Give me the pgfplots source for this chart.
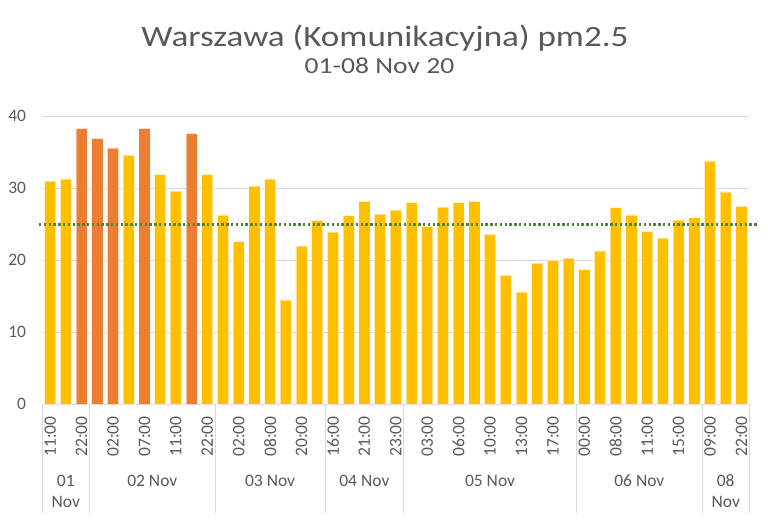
\documentclass[border=0pt]{standalone}
\usepackage{fontspec}
\setmainfont{Carlito}
\newfontfamily\titlefont{Carlito}[FakeStretch=1.19]
\newfontfamily\subfont{Carlito}[FakeStretch=1.2]
\usepackage{pgfplots}
\usepackage{pgfplotstable}
\pgfplotsset{compat=1.18}
\definecolor{txt}{HTML}{595959}
\definecolor{grd}{HTML}{D9D9D9}
\definecolor{yel}{HTML}{FFC000}
\definecolor{org}{HTML}{ED7D31}
\definecolor{grn}{HTML}{538135}
\tikzset{lbl/.style={anchor=base, text=txt, inner sep=0pt, font=\fontsize{17.5bp}{21bp}\selectfont}}

\pgfplotstableread{
x y
0 31.0
1 31.3
5 34.6
7 31.9
8 29.6
10 31.9
11 26.3
12 22.6
13 30.3
14 31.3
15 14.5
16 22.0
17 25.5
18 23.9
19 26.2
20 28.2
21 26.4
22 27.0
23 28.0
24 24.7
25 27.4
26 28.0
27 28.2
28 23.6
29 17.9
30 15.6
31 19.6
32 20.0
33 20.3
34 18.7
35 21.3
36 27.3
37 26.3
38 24.0
39 23.1
40 25.6
41 25.9
42 33.8
43 29.5
44 27.5
}\yellowdata

\pgfplotstableread{
x y
2 38.3
3 36.9
4 35.6
6 38.3
9 37.6
}\orangedata

\begin{document}
\begin{tikzpicture}
\path[use as bounding box] (0,0) rectangle (768bp,522bp);
\node[anchor=base, text=txt, inner sep=0pt, font=\titlefont\fontsize{29.5bp}{35bp}\selectfont] at (385bp,475.3bp) {Warszawa (Komunikacyjna) pm2.5};
\node[anchor=base, text=txt, inner sep=0pt, font=\subfont\fontsize{23bp}{28bp}\selectfont] at (379.5bp,448bp) {01-08 Nov 20};
\begin{axis}[
  at={(42.3bp,117.7bp)}, anchor=south west,
  scale only axis, width=707bp, height=288bp,
  xmin=-0.5, xmax=44.5, ymin=0, ymax=40,
  ytick={0,10,20,30,40},
  ymajorgrids, grid style={grd, line width=1bp},
  separate axis lines,
  axis x line*=bottom, axis y line*=left,
  x axis line style={draw=grd, line width=1bp},
  y axis line style={draw=none},
  xtick style={draw=none}, ytick style={draw=none},
  major tick length=0pt,
  ybar, bar width=11.2bp,
  clip=false,
  xtick={0,2,...,44},
  xticklabels={11:00,22:00,02:00,07:00,11:00,22:00,02:00,08:00,20:00,16:00,21:00,23:00,03:00,06:00,10:00,13:00,17:00,00:00,08:00,11:00,15:00,09:00,22:00},
  /pgf/number format/assume math mode=true,
  tick label style={font=\fontsize{17.5bp}{21bp}\selectfont, text=txt},
  xticklabel style={rotate=90, anchor=east, inner sep=0pt},
  xticklabel shift=12bp,
  yticklabel style={anchor=east, inner sep=0pt},
  yticklabel shift=16bp,
]
\addplot[fill=yel, draw=white, draw opacity=0.5, line width=0.75bp, bar shift=0pt] table[x=x,y=y]{\yellowdata};
\addplot[fill=org, draw=white, draw opacity=0.5, line width=0.75bp, bar shift=0pt] table[x=x,y=y]{\orangedata};
\addplot[sharp plot, grn, line width=2.4bp, dash pattern=on 2.4bp off 2.4bp] coordinates {(-0.71,25) (45,25)};
\draw[grd, line width=1bp] (axis cs:-0.5,0) -- ([yshift=-109bp]axis cs:-0.5,0);
\draw[grd, line width=1bp] (axis cs:2.5,0) -- ([yshift=-109bp]axis cs:2.5,0);
\draw[grd, line width=1bp] (axis cs:10.5,0) -- ([yshift=-109bp]axis cs:10.5,0);
\draw[grd, line width=1bp] (axis cs:17.5,0) -- ([yshift=-109bp]axis cs:17.5,0);
\draw[grd, line width=1bp] (axis cs:22.5,0) -- ([yshift=-109bp]axis cs:22.5,0);
\draw[grd, line width=1bp] (axis cs:33.5,0) -- ([yshift=-109bp]axis cs:33.5,0);
\draw[grd, line width=1bp] (axis cs:41.5,0) -- ([yshift=-109bp]axis cs:41.5,0);
\draw[grd, line width=1bp] (axis cs:44.5,0) -- ([yshift=-109bp]axis cs:44.5,0);
\node[lbl] at ([yshift=-81.7bp]axis cs:1,0) {01};
\node[lbl] at ([yshift=-103bp]axis cs:1,0) {Nov};
\node[lbl] at ([yshift=-81.7bp]axis cs:6.5,0) {02 Nov};
\node[lbl] at ([yshift=-81.7bp]axis cs:14,0) {03 Nov};
\node[lbl] at ([yshift=-81.7bp]axis cs:20,0) {04 Nov};
\node[lbl] at ([yshift=-81.7bp]axis cs:28,0) {05 Nov};
\node[lbl] at ([yshift=-81.7bp]axis cs:37.5,0) {06 Nov};
\node[lbl] at ([yshift=-81.7bp]axis cs:43,0) {08};
\node[lbl] at ([yshift=-103bp]axis cs:43,0) {Nov};
\end{axis}
\end{tikzpicture}
\end{document}
